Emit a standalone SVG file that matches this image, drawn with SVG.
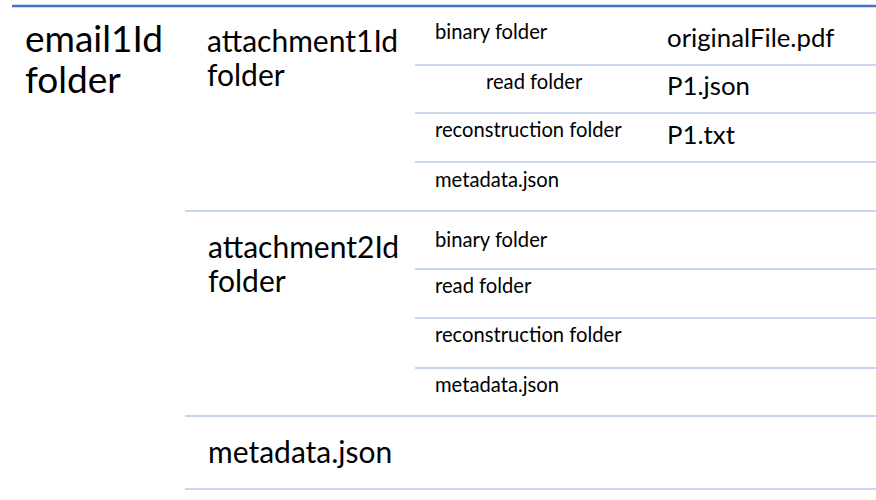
<svg xmlns="http://www.w3.org/2000/svg" width="876" height="500" viewBox="0 0 876 500">
  <style>
    text { font-family: Lato, "Liberation Sans", sans-serif; fill: #000; }
    .xl { font-size: 37px; }
    .lg { font-size: 30px; }
    .md { font-size: 25.8px; }
    .sm { font-size: 20.2px; }
    .top { stroke: #4472C4; stroke-width: 2.5; }
    .sep { stroke: #B4C7E7; stroke-width: 1.5; }
  </style>
  <rect width="876" height="500" fill="#fff"/>
  <g id="separators">
    <line class="top" x1="12" y1="6" x2="876" y2="6"/>
    <line class="sep" x1="415" y1="65" x2="876" y2="65"/>
    <line class="sep" x1="415" y1="113" x2="876" y2="113"/>
    <line class="sep" x1="415" y1="162" x2="876" y2="162"/>
    <line class="sep" x1="185" y1="211" x2="876" y2="211"/>
    <line class="sep" x1="415" y1="269" x2="876" y2="269"/>
    <line class="sep" x1="415" y1="318" x2="876" y2="318"/>
    <line class="sep" x1="415" y1="368" x2="876" y2="368"/>
    <line class="sep" x1="185" y1="416" x2="876" y2="416"/>
    <line class="sep" x1="185" y1="489" x2="876" y2="489"/>
  </g>
  <g id="email1Id-folder">
    <text class="xl" x="25" y="52">email1Id</text>
    <text class="xl" x="25" y="93">folder</text>
  </g>
  <g id="attachment1Id-folder">
    <text class="lg" x="207" y="52">attachment1Id</text>
    <text class="lg" x="207" y="86">folder</text>
  </g>
  <g id="a1-binary-folder"><text class="sm" x="435" y="39">binary folder</text></g>
  <g id="a1-originalFile"><text class="md" x="667" y="47">originalFile.pdf</text></g>
  <g id="a1-read-folder"><text class="sm" x="486" y="89">read folder</text></g>
  <g id="a1-P1-json"><text class="md" x="667" y="95">P1.json</text></g>
  <g id="a1-reconstruction-folder"><text class="sm" x="435" y="137">reconstruction folder</text></g>
  <g id="a1-P1-txt"><text class="md" x="667" y="144">P1.txt</text></g>
  <g id="a1-metadata"><text class="sm" x="435" y="187">metadata.json</text></g>
  <g id="attachment2Id-folder">
    <text class="lg" x="208" y="258">attachment2Id</text>
    <text class="lg" x="208" y="292">folder</text>
  </g>
  <g id="a2-binary-folder"><text class="sm" x="435" y="247">binary folder</text></g>
  <g id="a2-read-folder"><text class="sm" x="435" y="293">read folder</text></g>
  <g id="a2-reconstruction-folder"><text class="sm" x="435" y="342">reconstruction folder</text></g>
  <g id="a2-metadata"><text class="sm" x="435" y="392">metadata.json</text></g>
  <g id="email-metadata"><text class="lg" x="208" y="463">metadata.json</text></g>
</svg>
